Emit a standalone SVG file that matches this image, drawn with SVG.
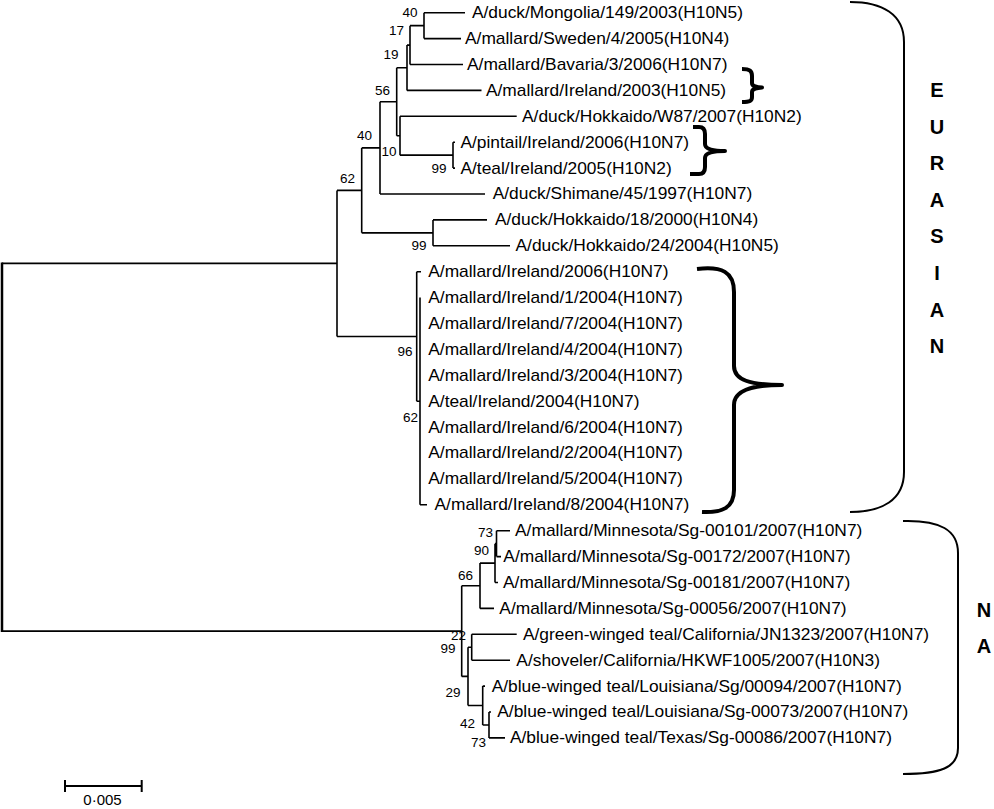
<svg xmlns="http://www.w3.org/2000/svg" width="994" height="809" viewBox="0 0 994 809">
<style>
.t{font-family:"Liberation Sans",Arial,sans-serif;font-size:16px;fill:#000}
.b{font-family:"Liberation Sans",Arial,sans-serif;font-size:13.5px;fill:#000;text-anchor:end}
.reg{font-family:"Liberation Sans",Arial,sans-serif;font-size:20px;font-weight:bold;fill:#000;text-anchor:middle}
.br{fill:none;stroke:#000;stroke-width:1.6}
.big{fill:none;stroke:#000;stroke-width:2}
.sm{fill:none;stroke:#000;stroke-width:4;stroke-linejoin:round}
</style>
<rect width="994" height="809" fill="#fff"/>
<g id="connectors">
<path class="br" d="M424 12.7H465M424 38.6H461M410 64.5H463M407 90.4H481.5M400 116.3H516.7M453 142.2H455M453 168.1H455M380 194H485M433 219.9H487M433 245.8H510M416.7 271.7H421M420 504.8H427M496.5 530.7H510M496.5 556.6H501M495 582.5H498M480 608.4H494M471.7 634.3H516.7M471.7 660.2H510M482.7 686.1H485M489 712H491M489 737.9H505"/>
<path class="br" d="M424 12.7V38.6M410 25.65V64.5M410 25.65H424M407 45.1V90.4M407 45.1H410M453 142.2V168.1M400 155.15H453M400 116.3V155.15M396.7 135.7H400M396.7 67.7V135.7M396.7 67.7H407M380 101.7V194M380 101.7H396.7M433 219.9V245.8M361.7 232.85H433M361.7 147.9V232.85M361.7 147.9H380M420 297.6V504.8M416.7 401.2H420M416.7 271.7V401.2M337 336.45H416.7M337 190.4V336.45M337 190.4H361.7M2 263.4H337"/>
<path class="br" d="M496.5 530.7V556.6M495 543.65H496.5M495 543.65V582.5M480 563.1H495M480 563.1V608.4M461.7 585.75H480M471.7 634.3V660.2M468 647.25H471.7M489 712V737.9M482.7 724.95H489M482.7 686.1V724.95M468 705.5H482.7M468 647.25V705.5M461.7 676.4H468M461.7 585.75V676.4M2 631.1H461.7"/>
<path fill="none" stroke="#000" stroke-width="2.5" d="M2 262.5V632"/>
</g>
<g id="bootstrap">
<text class="b" x="417.5" y="17">40</text>
<text class="b" x="404" y="35">17</text>
<text class="b" x="398.5" y="58.5">19</text>
<text class="b" x="390" y="95">56</text>
<text class="b" x="396.5" y="156">10</text>
<text class="b" x="372" y="140">40</text>
<text class="b" x="355" y="183">62</text>
<text class="b" x="446.5" y="173">99</text>
<text class="b" x="426.5" y="250">99</text>
<text class="b" x="412.5" y="356">96</text>
<text class="b" x="418" y="421.5">62</text>
<text class="b" x="493" y="537">73</text>
<text class="b" x="489" y="555">90</text>
<text class="b" x="473" y="579.5">66</text>
<text class="b" x="466" y="640">22</text>
<text class="b" x="455.5" y="653">99</text>
<text class="b" x="460.5" y="697">29</text>
<text class="b" x="475" y="728">42</text>
<text class="b" x="486" y="747">73</text>
</g>
<g id="leaf1"><text class="t" transform="scale(1.085 1)" x="435.0" y="18.2">A/duck/Mongolia/149/2003(H10N5)</text></g>
<g id="leaf2"><text class="t" transform="scale(1.085 1)" x="428.6" y="44.1">A/mallard/Sweden/4/2005(H10N4)</text></g>
<g id="leaf3"><text class="t" transform="scale(1.085 1)" x="430.4" y="70.0">A/mallard/Bavaria/3/2006(H10N7)</text></g>
<g id="leaf4"><text class="t" transform="scale(1.085 1)" x="447.9" y="95.9">A/mallard/Ireland/2003(H10N5)</text></g>
<g id="leaf5"><text class="t" transform="scale(1.085 1)" x="481.1" y="121.8">A/duck/Hokkaido/W87/2007(H10N2)</text></g>
<g id="leaf6"><text class="t" transform="scale(1.085 1)" x="424.4" y="147.7">A/pintail/Ireland/2006(H10N7)</text></g>
<g id="leaf7"><text class="t" transform="scale(1.085 1)" x="424.4" y="173.6">A/teal/Ireland/2005(H10N2)</text></g>
<g id="leaf8"><text class="t" transform="scale(1.085 1)" x="454.1" y="199.5">A/duck/Shimane/45/1997(H10N7)</text></g>
<g id="leaf9"><text class="t" transform="scale(1.085 1)" x="456.2" y="225.4">A/duck/Hokkaido/18/2000(H10N4)</text></g>
<g id="leaf10"><text class="t" transform="scale(1.085 1)" x="475.1" y="251.3">A/duck/Hokkaido/24/2004(H10N5)</text></g>
<g id="leaf11"><text class="t" transform="scale(1.085 1)" x="394.7" y="277.2">A/mallard/Ireland/2006(H10N7)</text></g>
<g id="leaf12"><text class="t" transform="scale(1.085 1)" x="394.7" y="303.1">A/mallard/Ireland/1/2004(H10N7)</text></g>
<g id="leaf13"><text class="t" transform="scale(1.085 1)" x="394.7" y="329.0">A/mallard/Ireland/7/2004(H10N7)</text></g>
<g id="leaf14"><text class="t" transform="scale(1.085 1)" x="394.7" y="354.9">A/mallard/Ireland/4/2004(H10N7)</text></g>
<g id="leaf15"><text class="t" transform="scale(1.085 1)" x="394.7" y="380.8">A/mallard/Ireland/3/2004(H10N7)</text></g>
<g id="leaf16"><text class="t" transform="scale(1.085 1)" x="394.7" y="406.7">A/teal/Ireland/2004(H10N7)</text></g>
<g id="leaf17"><text class="t" transform="scale(1.085 1)" x="394.7" y="432.6">A/mallard/Ireland/6/2004(H10N7)</text></g>
<g id="leaf18"><text class="t" transform="scale(1.085 1)" x="394.7" y="458.5">A/mallard/Ireland/2/2004(H10N7)</text></g>
<g id="leaf19"><text class="t" transform="scale(1.085 1)" x="394.7" y="484.4">A/mallard/Ireland/5/2004(H10N7)</text></g>
<g id="leaf20"><text class="t" transform="scale(1.085 1)" x="400.5" y="510.3">A/mallard/Ireland/8/2004(H10N7)</text></g>
<g id="leaf21"><text class="t" transform="scale(1.085 1)" x="474.7" y="536.2">A/mallard/Minnesota/Sg-00101/2007(H10N7)</text></g>
<g id="leaf22"><text class="t" transform="scale(1.085 1)" x="463.9" y="562.1">A/mallard/Minnesota/Sg-00172/2007(H10N7)</text></g>
<g id="leaf23"><text class="t" transform="scale(1.085 1)" x="463.6" y="588.0">A/mallard/Minnesota/Sg-00181/2007(H10N7)</text></g>
<g id="leaf24"><text class="t" transform="scale(1.085 1)" x="460.2" y="613.9">A/mallard/Minnesota/Sg-00056/2007(H10N7)</text></g>
<g id="leaf25"><text class="t" transform="scale(1.085 1)" x="482.0" y="639.8">A/green-winged teal/California/JN1323/2007(H10N7)</text></g>
<g id="leaf26"><text class="t" transform="scale(1.085 1)" x="475.9" y="665.7">A/shoveler/California/HKWF1005/2007(H10N3)</text></g>
<g id="leaf27"><text class="t" transform="scale(1.085 1)" x="453.2" y="691.6">A/blue-winged teal/Louisiana/Sg/00094/2007(H10N7)</text></g>
<g id="leaf28"><text class="t" transform="scale(1.085 1)" x="458.3" y="717.5">A/blue-winged teal/Louisiana/Sg-00073/2007(H10N7)</text></g>
<g id="leaf29"><text class="t" transform="scale(1.085 1)" x="470.0" y="743.4">A/blue-winged teal/Texas/Sg-00086/2007(H10N7)</text></g>
<g id="bracket-ireland2003"><path class="sm" d="M742 69C750 69 752 71 752 76V83C752 86 755 87 762 87.5C755 88 752 89 752 92V97C752 101 750 102 742 102"/></g>
<g id="bracket-pintail"><path class="sm" d="M693 127H699C703 127 705 129 705 134V144C705 149 712 151 725 151C712 151 705 153 705 158V167C705 172 703 174 699 174H690"/></g>
<g id="bracket-irish2004"><path class="sm" d="M697 269C722 266 734 272 734 292V366C734 380 750 385 782 385C750 385 734 391 734 405V490C734 508 722 513 702 512"/></g>
<g id="bracket-eurasian"><path class="big" d="M850 2C882 2 904 14 904 42V472C904 500 882 512 850 512"/>
<text class="reg" x="937" y="97.3">E</text><text class="reg" x="937" y="133.5">U</text><text class="reg" x="937" y="170">R</text><text class="reg" x="937" y="206.5">A</text><text class="reg" x="937" y="243">S</text><text class="reg" x="937" y="279.5">I</text><text class="reg" x="937" y="316.5">A</text><text class="reg" x="937" y="353">N</text></g>
<g id="bracket-na"><path class="big" d="M903 521C940 520 958 530 958 553V748C958 768 940 774 903 774"/>
<text class="reg" x="984" y="617">N</text><text class="reg" x="984" y="653">A</text></g>
<g id="scalebar"><path fill="none" stroke="#000" stroke-width="2" d="M65 786H141.7M65 780V792M141.7 780V792"/>
<text x="102.5" y="805" font-family="Liberation Sans, Arial, sans-serif" font-size="15" text-anchor="middle">0·005</text></g>
</svg>
